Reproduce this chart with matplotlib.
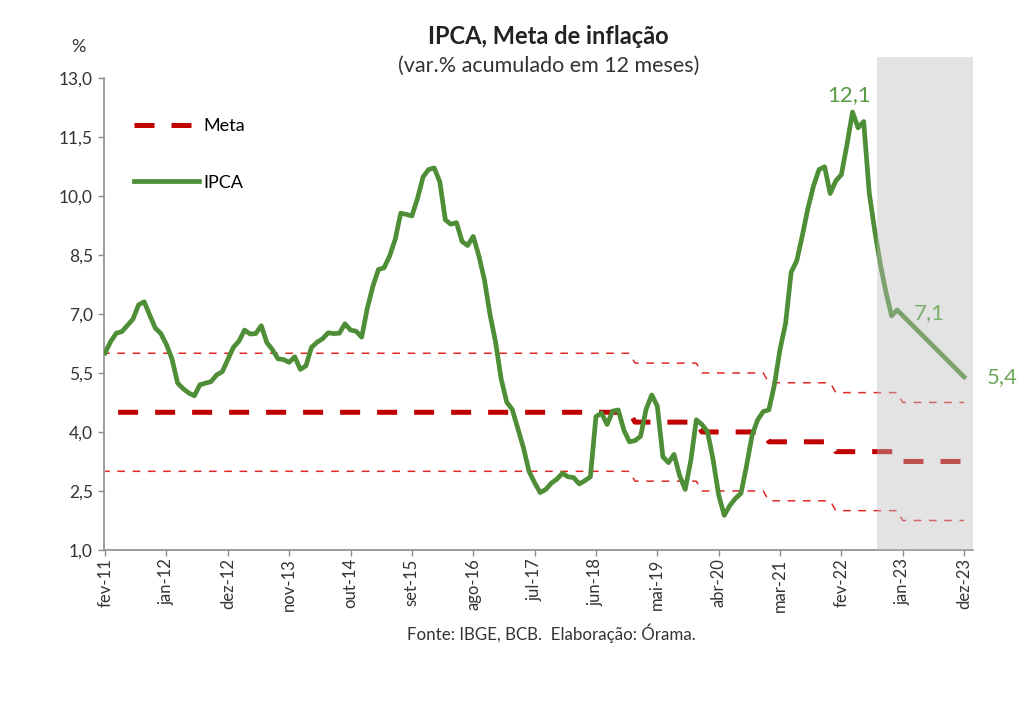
import numpy as np
import matplotlib
matplotlib.use('Agg')
import matplotlib.pyplot as plt
from matplotlib.lines import Line2D

plt.rcParams['font.family'] = ['Lato', 'DejaVu Sans']

# IPCA, var.% acumulada em 12 meses: fev-11 .. dez-22 (from ago-22 on: projection)
ipca_monthly = [
    6.01, 6.30, 6.51, 6.55, 6.71, 6.87, 7.23, 7.31, 6.97, 6.64, 6.50,
    6.22, 5.85, 5.24, 5.10, 4.99, 4.92, 5.20, 5.24, 5.28, 5.45, 5.53, 5.84,
    6.15, 6.31, 6.59, 6.49, 6.50, 6.70, 6.27, 6.09, 5.86, 5.84, 5.77, 5.91,
    5.59, 5.68, 6.15, 6.28, 6.37, 6.52, 6.50, 6.51, 6.75, 6.59, 6.56, 6.41,
    7.14, 7.70, 8.13, 8.17, 8.47, 8.89, 9.56, 9.53, 9.49, 9.93, 10.48, 10.67,
    10.71, 10.36, 9.39, 9.28, 9.32, 8.84, 8.74, 8.97, 8.48, 7.87, 6.99, 6.29,
    5.35, 4.76, 4.57, 4.08, 3.60, 3.00, 2.71, 2.46, 2.54, 2.70, 2.80, 2.95,
    2.86, 2.84, 2.68, 2.76, 2.86, 4.39, 4.48, 4.19, 4.53, 4.56, 4.05, 3.75,
    3.78, 3.89, 4.58, 4.94, 4.66, 3.37, 3.22, 3.43, 2.89, 2.54, 3.27, 4.31,
    4.19, 4.01, 3.30, 2.40, 1.88, 2.13, 2.31, 2.44, 3.14, 3.92, 4.31, 4.52,
    4.56, 5.20, 6.10, 6.76, 8.06, 8.35, 8.99, 9.68, 10.25, 10.67, 10.74, 10.06,
    10.38, 10.54, 11.30, 12.13, 11.73, 11.89, 10.07, 9.10, 8.25, 7.55, 6.95, 7.10,
]
ipca_dez23 = 5.4

# meta de inflacao por ano (2011 .. 2023) e intervalo de tolerancia
anos = list(range(2011, 2024))
meta_ano = [4.5, 4.5, 4.5, 4.5, 4.5, 4.5, 4.5, 4.5, 4.25, 4.0, 3.75, 3.5, 3.25]
tolerancia = 1.5

tick_labels = ['fev-11', 'jan-12', 'dez-12', 'nov-13', 'out-14', 'set-15', 'ago-16',
               'jul-17', 'jun-18', 'mai-19', 'abr-20', 'mar-21', 'fev-22', 'jan-23', 'dez-23']
yticks = [1.0, 2.5, 4.0, 5.5, 7.0, 8.5, 10.0, 11.5, 13.0]

######################################################################

# months counted from fev-11 = 0
meta_m = np.concatenate([np.full(11, meta_ano[0])] + [np.full(12, m) for m in meta_ano[1:]])
xm = np.arange(len(meta_m))
x_ipca = np.append(np.arange(len(ipca_monthly)), len(meta_m) - 1)
y_ipca = np.append(ipca_monthly, ipca_dez23)

green = '#4E8E36'
red = '#C00000'
red_thin = '#E02828'

fig = plt.figure(figsize=(10.24, 7.02), dpi=100)
ax = fig.add_axes([104 / 1024, 152 / 702, 869 / 1024, 493 / 702])

ax.plot(xm, meta_m + tolerancia, color=red_thin, lw=1.1, linestyle=(2.0, (5, 5)), zorder=2)
ax.plot(xm, meta_m - tolerancia, color=red_thin, lw=1.1, linestyle=(2.0, (5, 5)), zorder=2)
ax.plot(xm, meta_m, color=red, lw=3.6, linestyle=(4.8, (4, 3.4)), zorder=2)
ax.plot(x_ipca, y_ipca, color=green, lw=3.4, solid_joinstyle='round', zorder=3)

# projection area
ax.axvspan(138.4, 156, color='#bebebe', alpha=0.42, lw=0, zorder=4)

ax.set_xlim(-0.2, 155.6)
ax.set_ylim(1.0, 13.53)

ax.set_xticks(np.arange(0, 155, 11))
ax.set_xticklabels(tick_labels, rotation=90, fontsize=12, color='#333333')
ax.set_yticks(yticks)
ax.set_yticklabels([('%.1f' % v).replace('.', ',') for v in yticks], fontsize=12.5, color='#333333')

for s in ['top', 'right']:
    ax.spines[s].set_visible(False)
for s in ['left', 'bottom']:
    ax.spines[s].set_color('#8c8c8c')
    ax.spines[s].set_linewidth(1.2)
ax.spines['left'].set_bounds(1.0, 13.0)
ax.tick_params(axis='both', which='both', direction='out', length=4, width=1, color='#8c8c8c')
ax.tick_params(axis='y', pad=4)
ax.tick_params(axis='x', pad=2)

# value labels
i_max = int(np.argmax(y_ipca))
ax.annotate(('%.1f' % y_ipca[i_max]).replace('.', ','), xy=(x_ipca[i_max], y_ipca[i_max]),
            xytext=(-3, 17), textcoords='offset pixels', ha='center', va='center',
            fontsize=16, color='#5A9B45', zorder=6)
ax.annotate(('%.1f' % ipca_monthly[-1]).replace('.', ','), xy=(len(ipca_monthly) - 1, ipca_monthly[-1]),
            xytext=(32, -3), textcoords='offset pixels', ha='center', va='center',
            fontsize=16, color='#7DAE6B', zorder=6)
ax.annotate(('%.1f' % ipca_dez23).replace('.', ','), xy=(x_ipca[-1], ipca_dez23),
            xytext=(38, 0), textcoords='offset pixels', ha='center', va='center',
            fontsize=16, color='#6FA85C', zorder=6, annotation_clip=False)

# legend
h_meta = Line2D([], [], color=red, lw=3.6, linestyle=(0, (4, 3.4)))
h_ipca = Line2D([], [], color=green, lw=3.4)
ax.legend([h_meta, h_ipca], ['Meta', 'IPCA'], loc='upper left',
          bbox_to_anchor=(134 / 1024, 1 - 118 / 702), bbox_transform=fig.transFigure,
          frameon=False, fontsize=13, handlelength=3.6, handletextpad=0.25,
          labelspacing=2.25, borderpad=0, borderaxespad=0)

fig.text(548 / 1024, 1 - 37 / 702, 'IPCA, Meta de inflação', ha='center', va='center',
         fontsize=17, fontweight='bold', color='#222222')
fig.text(549 / 1024, 1 - 66 / 702, '(var.% acumulado em 12 meses)', ha='center', va='center',
         fontsize=15.5, color='#333333')
fig.text(78 / 1024, 1 - 47 / 702, '%', ha='center', va='center', fontsize=13, color='#333333')
fig.text(551 / 1024, 1 - 633 / 702, 'Fonte: IBGE, BCB.  Elaboração: Órama.', ha='center',
         va='center', fontsize=12.2, color='#333333')

plt.savefig('out.png', dpi=100)
plt.close()
